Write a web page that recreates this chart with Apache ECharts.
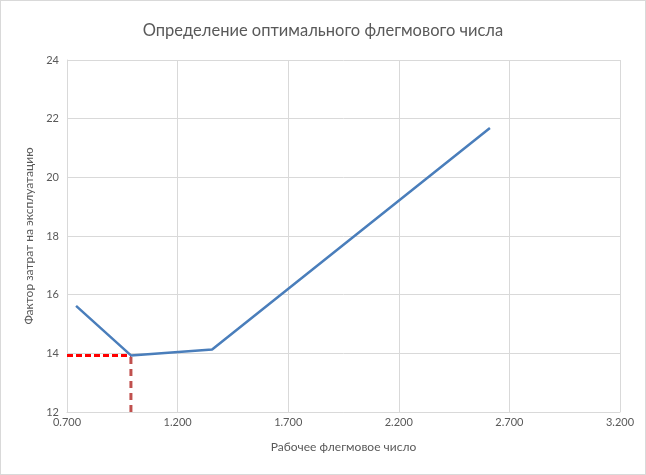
<!DOCTYPE html>
<html>
<head>
<meta charset="utf-8">
<script src="https://cdn.jsdelivr.net/npm/echarts@6/dist/echarts.min.js"></script>
<style>
  html, body { margin: 0; padding: 0; background: #fff; }
  #main { width: 644px; height: 473px; border: 1px solid #d9d9d9; }
</style>
</head>
<body>
<div id="main"></div>
<script>
// рабочее флегмовое число / фактор затрат
var refluxX = [0.741, 0.989, 1.356, 2.612]
var costY = [15.62, 13.93, 14.13, 21.68]
var optX = 0.989
var optY = 13.93

var lineData = refluxX.map(function (x, i) { return [x, costY[i]] })

var chart = echarts.init(document.getElementById('main'))
var textColor = '#595959'
var option = {
  animation: false,
  textStyle: { fontFamily: 'Lato' },
  title: {
    text: 'Определение оптимального флегмового числа',
    left: 'center',
    top: 16,
    textStyle: { fontFamily: 'Lato', fontSize: 16.5, fontWeight: 'normal', color: textColor }
  },
  grid: { left: 66, right: 25, top: 59, bottom: 62 },
  xAxis: {
    type: 'value',
    min: 0.7,
    max: 3.2,
    interval: 0.5,
    name: 'Рабочее флегмовое число',
    nameLocation: 'middle',
    nameGap: 29,
    nameTextStyle: { color: textColor, fontSize: 12, fontFamily: 'Lato' },
    axisLine: { lineStyle: { color: '#d9d9d9' } },
    axisTick: { show: false },
    axisLabel: {
      color: textColor, fontSize: 11, margin: 5,
      formatter: function (v) { return v.toFixed(3) }
    },
    splitLine: { lineStyle: { color: '#d9d9d9' } }
  },
  yAxis: {
    type: 'value',
    min: 12,
    max: 24,
    interval: 2,
    name: 'Фактор затрат на эксплуатацию',
    nameLocation: 'middle',
    nameGap: 32,
    nameTextStyle: { color: textColor, fontSize: 12, fontFamily: 'Lato' },
    axisLine: { show: true, lineStyle: { color: '#d9d9d9' } },
    axisTick: { show: false },
    axisLabel: { color: textColor, fontSize: 11, margin: 8 },
    splitLine: { lineStyle: { color: '#d9d9d9' } }
  },
  series: [
    {
      type: 'line',
      data: [[0.7, optY], [optX, optY]],
      symbol: 'none',
      lineStyle: { color: '#ff0000', width: 3, type: [6, 3] }
    },
    {
      type: 'line',
      data: [[optX, 12], [optX, optY]],
      symbol: 'none',
      lineStyle: { color: '#c0504d', width: 3, type: [7, 5] }
    },
    {
      type: 'line',
      data: lineData,
      symbol: 'none',
      lineStyle: { color: '#4a7ebb', width: 2.5 }
    }
  ]
}
chart.setOption(option)
</script>
</body>
</html>
